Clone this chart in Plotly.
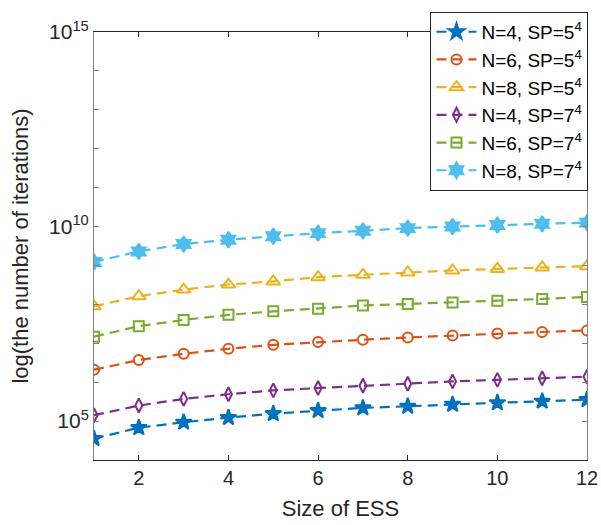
import plotly.graph_objects as go

ess = [1, 2, 3, 4, 5, 6, 7, 8, 9, 10, 11, 12]

# log10 of the number of iterations
n4_sp5 = [4.55, 4.83, 4.97, 5.09, 5.19, 5.27, 5.34, 5.38, 5.43, 5.47, 5.51, 5.55]
n6_sp5 = [6.32, 6.57, 6.73, 6.86, 6.96, 7.03, 7.09, 7.15, 7.20, 7.25, 7.29, 7.33]
n8_sp5 = [7.95, 8.21, 8.38, 8.51, 8.59, 8.70, 8.76, 8.82, 8.87, 8.91, 8.95, 8.98]
n4_sp7 = [5.15, 5.40, 5.57, 5.69, 5.79, 5.85, 5.91, 5.96, 6.02, 6.06, 6.10, 6.14]
n6_sp7 = [7.17, 7.44, 7.60, 7.73, 7.82, 7.89, 7.97, 8.01, 8.05, 8.09, 8.14, 8.19]
n8_sp7 = [9.09, 9.36, 9.55, 9.66, 9.75, 9.83, 9.89, 9.96, 10.00, 10.04, 10.07, 10.10]

names = ["N=4, SP=5<sup>4</sup>", "N=6, SP=5<sup>4</sup>", "N=8, SP=5<sup>4</sup>",
         "N=4, SP=7<sup>4</sup>", "N=6, SP=7<sup>4</sup>", "N=8, SP=7<sup>4</sup>"]
series = [n4_sp5, n6_sp5, n8_sp5, n4_sp7, n6_sp7, n8_sp7]
colors = ["#0072BD", "#D95319", "#EDB120", "#7E2F8E", "#77AC30", "#4DBEEE"]
symbols = ["star", "circle-open", "triangle-up-open", "diamond-tall-open", "square-open", "hexagram"]
sizes = [12, 10, 12, 10, 10, 12]

xticks = [2, 4, 6, 8, 10, 12]
ydecades = list(range(4, 16))
ylabels = {5: "10<sup>5</sup>", 10: "10<sup>10</sup>", 15: "10<sup>15</sup>"}

fig = go.Figure()
for name, vals, c, s, sz in zip(names, series, colors, symbols, sizes):
    fig.add_trace(go.Scatter(
        x=ess, y=[10 ** v for v in vals], name=name, mode="lines+markers",
        line=dict(color=c, width=2.2, dash="10px,6px"),
        marker=dict(symbol=s, size=sz, color=c, line=dict(color=c, width=2)),
    ))

font = "Liberation Sans, Arial, Helvetica, sans-serif"
fig.update_layout(
    width=601, height=525,
    margin=dict(l=94, r=14, t=30, b=65),
    paper_bgcolor="white", plot_bgcolor="white",
    font=dict(family=font, color="#262626", size=20),
    showlegend=True,
    legend=dict(
        x=1.003, xanchor="right", y=1.047, yanchor="top",
        bgcolor="white", bordercolor="#262626", borderwidth=1,
        font=dict(size=19, color="#000000"), itemwidth=40,
        tracegroupgap=0,
    ),
    xaxis=dict(
        range=[1, 12], tickvals=xticks, ticks="inside", ticklen=5,
        tickcolor="#262626", showline=True, linecolor="#262626", linewidth=1,
        mirror="ticks", showgrid=False, zeroline=False, automargin=False,
        title=dict(text="Size of ESS", font=dict(size=22), standoff=12),
        tickfont=dict(size=20),
    ),
    yaxis=dict(
        type="log", range=[4, 15], automargin=False,
        tickvals=[10 ** d for d in ydecades],
        ticktext=[ylabels.get(d, "") for d in ydecades],
        ticks="inside", ticklen=5, tickcolor="#808080",
        showline=True, linecolor="#808080", linewidth=1,
        mirror="ticks", showgrid=False, zeroline=False,
        title=dict(text="log(the number of iterations)", font=dict(size=22), standoff=14),
        tickfont=dict(size=21),
    ),
)

fig.write_html("out.html")
